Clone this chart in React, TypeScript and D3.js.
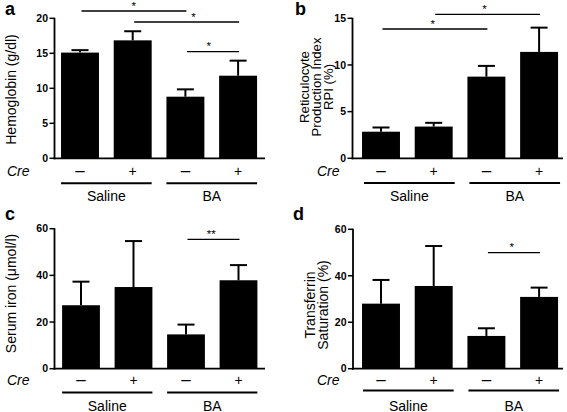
import React from "react";
import * as d3 from "d3";

// ---------- data ----------
const groups = ["Saline", "BA"];
const creLabels = ["\u2013", "+", "\u2013", "+"];
const conditions = ["Saline-", "Saline+", "BA-", "BA+"];

const hemoglobin = [15.1, 16.85, 8.8, 11.8];
const hemoglobinErr = [0.35, 1.3, 1.05, 2.15];

const rpi = [2.85, 3.4, 8.75, 11.4];
const rpiErr = [0.45, 0.4, 1.15, 2.6];

const serumIron = [27.2, 35.0, 14.7, 37.9];
const serumIronErr = [10.1, 19.7, 4.2, 6.5];

const tsat = [28.0, 35.6, 14.1, 30.9];
const tsatErr = [10.2, 17.2, 3.3, 4.0];

const hemoglobinTicks = [0, 5, 10, 15, 20];
const rpiTicks = [0, 5, 10, 15];
const ironTicks = [0, 20, 40, 60];
const tsatTicks = [0, 20, 40, 60];

const FONT = "'Liberation Sans', Arial, Helvetica, sans-serif";

type Sig = { from: number; to: number; y: number; dx: number; label: string };
type PanelCfg = {
  letter: string;
  letterX: number;
  letterY: number;
  values: number[];
  errs: number[];
  ticks: number[];
  y0: number;
  y1: number;
  axisX: number;
  axisEnd: number;
  bandStart: number;
  step: number;
  creX: number;
  creY: number;
  groupLineY: number;
  groupLabelY: number;
  groupDx: number;
  labelLines: string[];
  labelXs: number[];
  labelCY: number;
  labelSize: number;
  sigs: Sig[];
};

const panels: PanelCfg[] = [
  {
    letter: "a", letterX: 5, letterY: 15,
    values: hemoglobin, errs: hemoglobinErr, ticks: hemoglobinTicks,
    y0: 158.3, y1: 18.3, axisX: 54.5, axisEnd: 265,
    bandStart: 53.65, step: 52.7,
    creX: 7, creY: 176, groupLineY: 183.3, groupLabelY: 200.5, groupDx: 0,
    labelLines: ["Hemoglobin (g/dl)"], labelXs: [15.5], labelCY: 89.5, labelSize: 14,
    sigs: [
      { from: 0, to: 2, y: 11, dx: 1, label: "*" },
      { from: 1, to: 3, y: 22, dx: 8, label: "*" },
      { from: 2, to: 3, y: 51.7, dx: -3, label: "*" },
    ],
  },
  {
    letter: "b", letterX: 295, letterY: 15,
    values: rpi, errs: rpiErr, ticks: rpiTicks,
    y0: 158.3, y1: 18.3, axisX: 352.5, axisEnd: 563,
    bandStart: 354.65, step: 52.7,
    creX: 317, creY: 176, groupLineY: 183, groupLabelY: 200.5, groupDx: 2,
    labelLines: ["Reticulocyte", "Production Index", "RPI (%)"],
    labelXs: [308.5, 321, 333], labelCY: 87, labelSize: 13.2,
    sigs: [
      { from: 0, to: 2, y: 29, dx: -1, label: "*" },
      { from: 1, to: 3, y: 14.3, dx: -2, label: "*" },
    ],
  },
  {
    letter: "c", letterX: 5, letterY: 220,
    values: serumIron, errs: serumIronErr, ticks: ironTicks,
    y0: 368.7, y1: 228.7, axisX: 54.5, axisEnd: 265,
    bandStart: 54.75, step: 52.5,
    creX: 7, creY: 385, groupLineY: 392.5, groupLabelY: 410.5, groupDx: 0,
    labelLines: ["Serum iron (\u03bcmol/l)"], labelXs: [15.5], labelCY: 293.5, labelSize: 14,
    sigs: [{ from: 2, to: 3, y: 239.3, dx: -1, label: "**" }],
  },
  {
    letter: "d", letterX: 293, letterY: 220,
    values: tsat, errs: tsatErr, ticks: tsatTicks,
    y0: 368.7, y1: 229.3, axisX: 353, axisEnd: 563,
    bandStart: 354.65, step: 52.7,
    creX: 317, creY: 385, groupLineY: 390.5, groupLabelY: 410.5, groupDx: 1,
    labelLines: ["Transferrin", "Saturation (%)"],
    labelXs: [314.5, 328], labelCY: 305, labelSize: 14,
    sigs: [{ from: 2, to: 3, y: 252.7, dx: -1, label: "*" }],
  },
];

function Panel({ cfg }: { cfg: PanelCfg }) {
  const yMax = cfg.ticks[cfg.ticks.length - 1];
  const y = d3.scaleLinear().domain([0, yMax]).range([cfg.y0, cfg.y1]);
  const x = d3
    .scaleBand<string>()
    .domain(conditions)
    .range([cfg.bandStart, cfg.bandStart + cfg.step * 4])
    .paddingInner(0.28)
    .paddingOuter(0.14);
  const bw = x.bandwidth();
  const cx = (i: number) => (x(conditions[i]) as number) + bw / 2;
  const capHalf = 8.5;

  return (
    <g>
      <text x={cfg.letterX} y={cfg.letterY} fontFamily={FONT} fontWeight="bold" fontSize={18}>
        {cfg.letter}
      </text>
      {cfg.labelLines.map((t, i) => (
        <text
          key={t}
          transform={`translate(${cfg.labelXs[i]},${cfg.labelCY}) rotate(-90)`}
          textAnchor="middle"
          fontFamily={FONT}
          fontSize={cfg.labelSize}
        >
          {t}
        </text>
      ))}
      {cfg.values.map((v, i) => (
        <rect
          key={"b" + i}
          x={x(conditions[i])}
          y={y(v)}
          width={bw}
          height={y(0) - y(v)}
          fill="#000"
        />
      ))}
      {cfg.values.map((v, i) => (
        <g key={"e" + i} stroke="#000" strokeWidth={2}>
          <line x1={cx(i)} x2={cx(i)} y1={y(v)} y2={y(v + cfg.errs[i])} />
          <line x1={cx(i) - capHalf} x2={cx(i) + capHalf} y1={y(v + cfg.errs[i])} y2={y(v + cfg.errs[i])} />
        </g>
      ))}
      <line x1={cfg.axisX} x2={cfg.axisX} y1={y(0) + 1} y2={y(yMax) - 0.5} stroke="#000" strokeWidth={1.8} />
      <line x1={cfg.axisX - 0.9} x2={cfg.axisEnd} y1={y(0)} y2={y(0)} stroke="#000" strokeWidth={1.8} />
      {cfg.ticks.map((t) => (
        <g key={"t" + t}>
          <line x1={cfg.axisX - 5} x2={cfg.axisX} y1={y(t)} y2={y(t)} stroke="#000" strokeWidth={1.5} />
          <text
            x={cfg.axisX - 6.5}
            y={y(t)}
            dy="0.36em"
            textAnchor="end"
            fontFamily={FONT}
            fontWeight="bold"
            fontSize={10.5}
          >
            {t}
          </text>
        </g>
      ))}
      {cfg.sigs.map((s, i) => (
        <g key={"s" + i}>
          <line x1={cx(s.from) + 1.5} x2={cx(s.to) + 1} y1={s.y} y2={s.y} stroke="#000" strokeWidth={1.3} />
          <text
            x={(cx(s.from) + cx(s.to)) / 2 + s.dx}
            y={s.y - 1.5}
            textAnchor="middle"
            fontFamily={FONT}
            fontSize={11.5}
          >
            {s.label}
          </text>
        </g>
      ))}
      <text x={cfg.creX} y={cfg.creY} fontFamily={FONT} fontStyle="italic" fontSize={14}>
        Cre
      </text>
      {creLabels.map((c, i) => (
        <text
          key={"c" + i}
          x={cx(i)}
          y={cfg.creY}
          textAnchor="middle"
          fontFamily={FONT}
          fontSize={c === "+" ? 14 : 17}
        >
          {c}
        </text>
      ))}
      {groups.map((g, gi) => {
        const x1 = (x(conditions[gi * 2]) as number) + cfg.groupDx;
        const x2 = (x(conditions[gi * 2 + 1]) as number) + bw + cfg.groupDx;
        return (
          <g key={"g" + g}>
            <line x1={x1} x2={x2} y1={cfg.groupLineY} y2={cfg.groupLineY} stroke="#000" strokeWidth={2} />
            <text x={(x1 + x2) / 2} y={cfg.groupLabelY} textAnchor="middle" fontFamily={FONT} fontSize={14}>
              {g}
            </text>
          </g>
        );
      })}
    </g>
  );
}

export default function App() {
  return (
    <svg
      width={567}
      height={412}
      style={{ position: "absolute", left: 0, top: 0, background: "#fff" }}
    >
      <rect x={0} y={0} width={567} height={412} fill="#fff" />
      {panels.map((p) => (
        <Panel key={p.letter} cfg={p} />
      ))}
    </svg>
  );
}
